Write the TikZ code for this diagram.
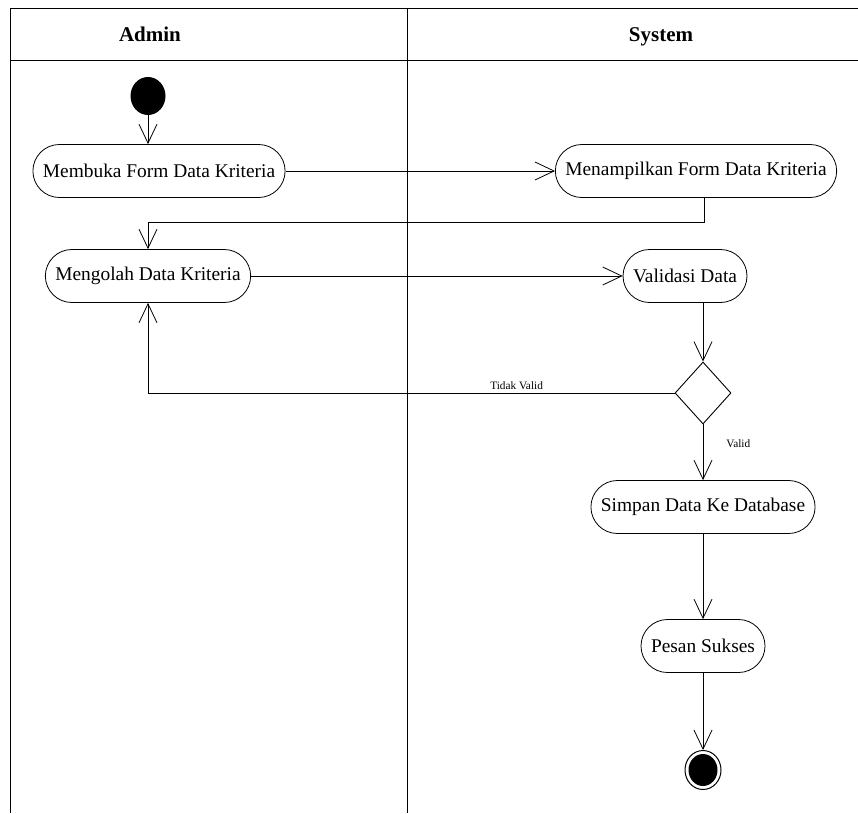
\documentclass[tikz,border=0pt]{standalone}
\usepackage{fontspec}
\setmainfont{Liberation Serif}
\usetikzlibrary{arrows.meta,shapes.geometric}
\begin{document}
\begin{tikzpicture}[x=1pt,y=-1pt,
  lane/.style={line width=1pt},
  act/.style={draw, line width=0.8pt, rounded corners=26.5pt, minimum height=53pt, inner xsep=10pt, font=\fontsize{19.4}{23}\selectfont},
  hdr/.style={font=\fontsize{21}{25}\selectfont\bfseries, anchor=base},
  lbl/.style={font=\fontsize{11.3}{13}\selectfont, inner sep=1pt},
  flow/.style={draw, line width=0.8pt, -{Straight Barb[length=19pt,width=18pt,line width=0.8pt]}}
]
\useasboundingbox (0,0) rectangle (858,813);
% swimlanes
\draw[lane] (10,813) -- (10,9) -- (858,9);
\draw[lane] (10,61) -- (858,61);
\draw[lane] (407,9) -- (407,813);
\node[hdr] (hadmin) at (150,42) {Admin};
\node[hdr] (hsystem) at (661,42) {System};
% nodes
\node[ellipse, fill, minimum width=35pt, minimum height=38pt, inner sep=0pt] (start) at (148,96) {};
\node[act] (membuka) at (159,171) {Membuka Form Data Kriteria};
\node[act] (menampilkan) at (696,171) {Menampilkan Form Data Kriteria};
\node[act] (mengolah) at (148,276) {Mengolah Data Kriteria};
\node[act] (validasi) at (685,276) {Validasi Data};
\node[diamond, draw, line width=0.9pt, minimum width=56pt, minimum height=62pt, inner sep=0pt] (dec) at (703,393) {};
\node[act] (simpan) at (703,507) {Simpan Data Ke Database};
\node[act] (pesan) at (703,646) {Pesan Sukses};
\node[ellipse, draw, line width=1pt, minimum width=36pt, minimum height=39pt, inner sep=0pt] (end) at (703,770) {};
\node[ellipse, fill, minimum width=29pt, minimum height=32pt, inner sep=0pt] (endin) at (end) {};
% connectors
\draw[flow] (start.south) -- (start.south |- membuka.north);
\draw[flow] (membuka) -- (menampilkan);
\draw[flow] ([xshift=8pt]menampilkan.south) -- ++(0,24) -| (mengolah.north);
\draw[flow] (mengolah) -- (validasi);
\draw[flow] (validasi.south -| dec.north) -- (dec.north);
\draw[flow] (dec.west) -| node[lbl, pos=0.15, above=2pt] {Tidak Valid} (mengolah.south);
\draw[flow] (dec.south) -- node[lbl, pos=0.34, right=22pt] {Valid} (simpan.north);
\draw[flow] (simpan) -- (pesan);
\draw[flow] (pesan) -- (end);
\end{tikzpicture}
\end{document}
